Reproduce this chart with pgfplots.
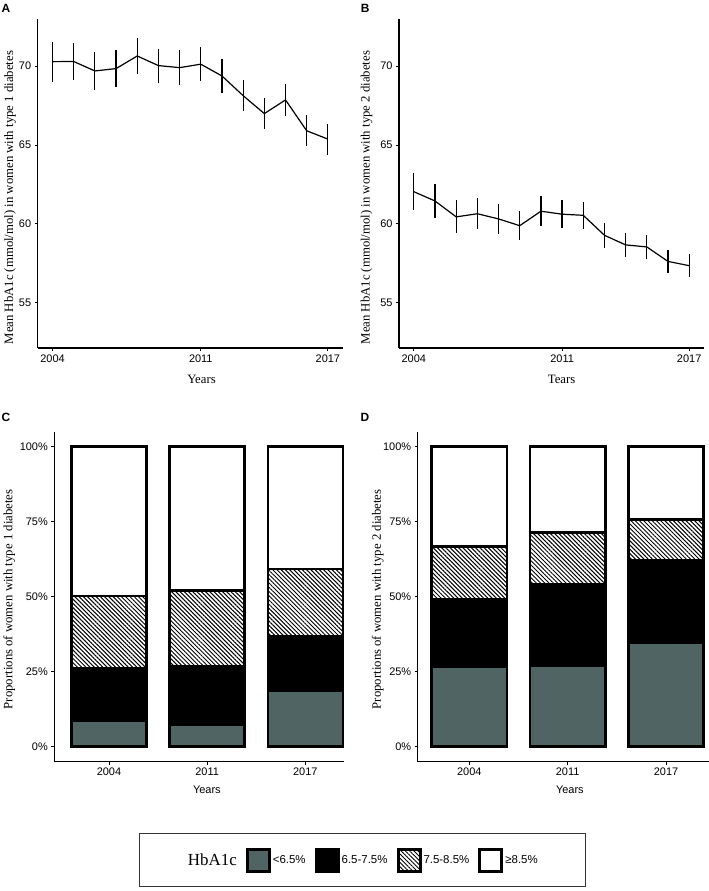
\documentclass[border=0pt]{standalone}
\usepackage{fontspec}
\setmainfont{Liberation Serif}
\setsansfont{Liberation Sans}
\usepackage{pgfplots}
\usepackage{pgfplotstable}
\pgfplotsset{compat=1.18}
\usetikzlibrary{patterns.meta}
\definecolor{slate}{RGB}{80,100,100}

\newcommand{\tfont}{\fontsize{11}{13}\selectfont\sffamily}
\newcommand{\sfont}{\fontsize{12.8}{15}\selectfont\rmfamily}
\newcommand{\pfont}{\fontsize{12}{14}\selectfont\sffamily\bfseries}

% mean HbA1c and half-width of the error bar, type 1 and type 2
\pgfplotstableread{
year mean err
2004 70.29 1.27
2005 70.30 1.18
2006 69.70 1.19
2007 69.85 1.17
2008 70.65 1.14
2009 70.04 1.08
2010 69.91 1.10
2011 70.13 1.08
2012 69.38 1.07
2013 68.13 0.99
2014 66.99 0.97
2015 67.86 1.00
2016 65.90 0.99
2017 65.37 0.99
}\typeone
\pgfplotstableread{
year mean err
2004 62.03 1.16
2005 61.44 1.10
2006 60.43 1.05
2007 60.63 1.00
2008 60.30 0.97
2009 59.87 0.92
2010 60.79 0.94
2011 60.60 0.89
2012 60.53 0.87
2013 59.26 0.81
2014 58.65 0.78
2015 58.52 0.75
2016 57.60 0.74
2017 57.33 0.72
}\typetwo

\pgfplotsset{
  panel/.style={
    scale only axis,
    axis x line*=bottom, axis y line*=left,
    axis line style={line width=1.4bp, -},
    tick align=outside,
    major tick length=3bp,
    every tick/.style={line width=0.8bp, black},
    tick label style={font=\tfont},
    /pgf/number format/assume math mode=true,
    clip=false,
  },
  linepanel/.style={panel, width=305bp, height=329bp,
    xmin=2003.3, xmax=2017.7, ymin=52.1, ymax=73,
    xtick={2004,2011,2017}, ytick={55,60,65,70},
    xticklabel style={/pgf/number format/1000 sep={}},
    xlabel style={font=\sfont, anchor=center},
    ylabel style={font=\sfont, anchor=center},
  },
  barpanel/.style={panel, width=290bp, height=330bp,
    ybar stacked, bar width=0.765,
    ymin=-5, ymax=105, xtick={1,2,3}, xticklabels={2004,2011,2017},
    ytick={0,25,50,75,100}, yticklabels={0\%,25\%,50\%,75\%,100\%},
    xlabel style={font=\tfont, anchor=center},
    ylabel style={font=\sfont, anchor=center},
  },
  meanline/.style={black, line width=1.2bp, mark=none,
    error bars/y dir=both, error bars/y explicit, error bars/error mark=none,
    error bars/error bar style={line width=1.2bp, black}},
  sq/.style={draw=black, line width=2.5bp,
    legend image code/.code={\draw[##1, line width=3bp] (0bp,-11bp) rectangle (22bp,11bp);}},
  hatch/.style={pattern={Lines[angle=-45,distance=3bp,line width=1bp]}},
}

\begin{document}
\begin{tikzpicture}
\path[use as bounding box] (0,0) rectangle (709bp,-891bp);

% A
\begin{axis}[linepanel, at={(37.7bp,-348bp)},
  xlabel={Years}, xlabel style={at={(axis description cs:0.537,-0.095)}},
  ylabel={Mean HbA1c (mmol/mol) in women with type 1 diabetes},
  ylabel style={at={(axis description cs:-0.0907,0.457)}}]
\addplot[meanline] table[x=year, y=mean, y error=err] {\typeone};
\node[font=\pfont] at (axis description cs:-0.104,1.033) {A};
\end{axis}

% B
\begin{axis}[linepanel, at={(399bp,-348bp)},
  xlabel={Tears}, xlabel style={at={(axis description cs:0.533,-0.095)}},
  ylabel={Mean HbA1c (mmol/mol) in women with type 2 diabetes},
  ylabel style={at={(axis description cs:-0.106,0.457)}}]
\addplot[meanline] table[x=year, y=mean, y error=err] {\typetwo};
\node[font=\pfont] at (axis description cs:-0.111,1.033) {B};
\end{axis}

% C
\begin{axis}[barpanel, at={(54.3bp,-761.7bp)}, xmin=0.443, xmax=3.397,
  xlabel={Years}, xlabel style={at={(axis description cs:0.526,-0.086)}},
  ylabel={Proportions of women with type 1 diabetes},
  ylabel style={at={(axis description cs:-0.155,0.492)}},
  legend columns=5,
  legend cell align=left,
  legend style={at={(1.064,-0.298)}, anchor=center, draw=black!80, line width=1bp,
    font=\fontsize{11.5}{13}\selectfont\sffamily, inner xsep=46bp, inner ysep=14bp,
    /tikz/every even column/.append style={column sep=7bp}}]
\addlegendimage{empty legend}
\addplot[sq, fill=slate] coordinates {(1,8.5) (2,7.2) (3,18.6)};
\addplot[sq, fill=black] coordinates {(1,17.6) (2,19.7) (3,18.2)};
\addplot[sq, hatch] coordinates {(1,24.1) (2,25.2) (3,22.5)};
\addplot[sq, fill=white] coordinates {(1,49.8) (2,47.9) (3,40.7)};
\legend{{\fontsize{17}{19}\selectfont\rmfamily HbA1c}, <6.5\%, 6.5-7.5\%, 7.5-8.5\%, ≥8.5\%}
\node[font=\pfont] at (axis description cs:-0.167,1.042) {C};
\end{axis}

% D
\begin{axis}[barpanel, at={(417.7bp,-761.7bp)}, width=291bp, xmin=0.475, xmax=3.434,
  xlabel={Years}, xlabel style={at={(axis description cs:0.523,-0.086)}},
  ylabel={Proportions of women with type 2 diabetes},
  ylabel style={at={(axis description cs:-0.137,0.492)}}]
\addplot[sq, fill=slate] coordinates {(1,26.6) (2,27.1) (3,34.8)};
\addplot[sq, fill=black] coordinates {(1,22.7) (2,27.2) (3,27.3)};
\addplot[sq, hatch] coordinates {(1,17.5) (2,17.1) (3,13.6)};
\addplot[sq, fill=white] coordinates {(1,33.2) (2,28.6) (3,24.3)};
\node[font=\pfont] at (axis description cs:-0.181,1.042) {D};
\end{axis}
\end{tikzpicture}
\end{document}
